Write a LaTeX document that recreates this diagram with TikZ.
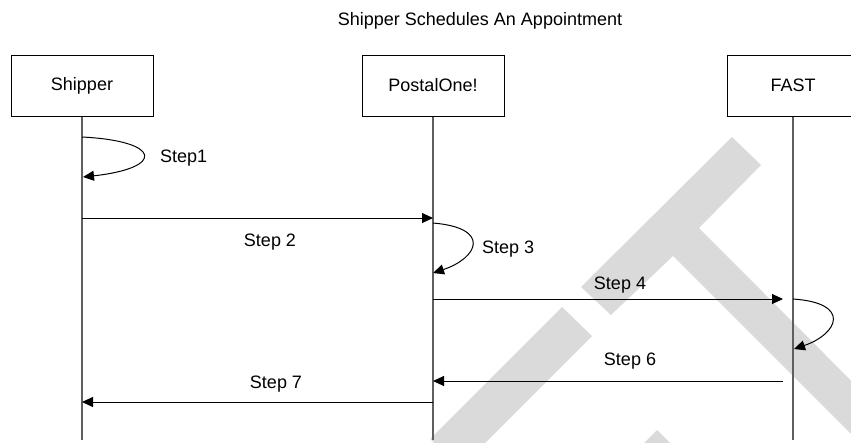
\documentclass[tikz,border=0pt]{standalone}
\usepackage{fontspec}
\setmainfont{Liberation Sans}
\usetikzlibrary{arrows.meta}
\definecolor{wmgray}{RGB}{218,218,218}
\definecolor{lifegray}{RGB}{95,95,95}
\begin{document}
\begin{tikzpicture}[x=1pt,y=-1pt,
  actor/.style={draw=black,line width=1pt,minimum height=61pt,inner sep=0pt,font=\fontsize{18}{20}\selectfont},
  lifeline/.style={draw=lifegray,line width=1.3pt},
  msg/.style={draw=black,line width=1pt,-{Triangle[length=11pt,width=10pt]}},
  lbl/.style={anchor=base,inner sep=0pt,font=\fontsize{18}{20}\selectfont},
  wm/.style={fill=wmgray,draw=none}]
\useasboundingbox (0,0) rectangle (851,442);
\clip (0,0) rectangle (851,442);
% watermark
\fill[wm] (732,137) -- (761,165) -- (699,228) -- (950,480) -- (950,533) -- (673,256) -- (611,315) -- (581,287) -- cycle;
\fill[wm] (562,307) -- (592,336) -- (460,468) -- (430,439) -- cycle;
\fill[wm] (657,430) -- (690,463) -- (624,463) -- cycle;
% title
\node[lbl] (title) at (480,25) {Shipper Schedules An Appointment};
% actors
\node[actor,minimum width=142pt] (shipper) at (82,85.5) {Shipper};
\node[actor,minimum width=142pt] (postal) at (433,85.5) {PostalOne!};
\node[actor,minimum width=132pt] (fast) at (793,85.5) {FAST};
% lifeline ends
\coordinate (sBot) at (82,440);
\coordinate (pBot) at (433,440);
\coordinate (fBot) at (793,440);
\draw[lifeline] (shipper.south) -- (sBot);
\draw[lifeline] (postal.south) -- (pBot);
\draw[lifeline] (fast.south) -- (fBot);
% message points
\coordinate (s1a) at (82,137);
\coordinate (s1b) at (83,177);
\coordinate (s2a) at (82,218);
\coordinate (s2b) at (433,218);
\coordinate (s3a) at (433,223);
\coordinate (s3b) at (433,273);
\coordinate (s4a) at (433,299);
\coordinate (s4b) at (783,299);
\coordinate (s5a) at (793,299);
\coordinate (s5b) at (794,349);
\coordinate (s6a) at (783,381);
\coordinate (s6b) at (433,381);
\coordinate (s7a) at (433,402);
\coordinate (s7b) at (82,402);
% messages
\draw[msg] (s1a) .. controls (162,141) and (165,168) .. (s1b);
\draw[msg] (s2a) -- (s2b);
\draw[msg] (s3a) .. controls (492,228) and (478,258) .. (s3b);
\draw[msg] (s4a) -- (s4b);
\draw[msg] (s5a) .. controls (852,303) and (838,334) .. (s5b);
\draw[msg] (s6a) -- (s6b);
\draw[msg] (s7a) -- (s7b);
% labels
\node[lbl,anchor=base west] (l1) at (160,162) {Step1};
\node[lbl] (l2) at (270,246) {Step 2};
\node[lbl,anchor=base west] (l3) at (482,253) {Step 3};
\node[lbl] (l4) at (620,289) {Step 4};
\node[lbl] (l6) at (630,365) {Step 6};
\node[lbl] (l7) at (276,388) {Step 7};
\end{tikzpicture}
\end{document}
